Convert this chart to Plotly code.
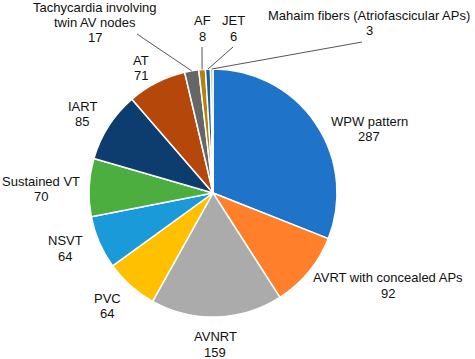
import math
import plotly.graph_objects as go

W, H = 475, 359

categories = ["WPW pattern", "AVRT with concealed APs", "AVNRT", "PVC", "NSVT",
              "Sustained VT", "IART", "AT", "Tachycardia involving twin AV nodes",
              "AF", "JET", "Mahaim fibers (Atriofascicular APs)"]
values = [287, 92, 159, 64, 64, 70, 85, 71, 17, 8, 6, 3]
label_lines = [["WPW pattern"], ["AVRT with concealed APs"], ["AVNRT"], ["PVC"], ["NSVT"],
               ["Sustained VT"], ["IART"], ["AT"], ["Tachycardia involving", "twin AV nodes"],
               ["AF"], ["JET"], ["Mahaim fibers (Atriofascicular APs)"]]

colors = ["#1F74CA", "#FF7F2A", "#ABABAB", "#FFC000", "#1B9AD9", "#4CAE3F",
          "#0D3C6E", "#B5470A", "#666666", "#B5820A", "#1A5F95", "#9EC283"]

# layout (pixels)
CX, CY, R = 213, 193, 124
LINE_H = 15.5
label_pos = [(369, 129), (388, 285.5), (215, 344.5), (107, 306), (65, 248.5), (41, 189),
             (82, 114), (141, 68), (95, 22.5), (202, 28.5), (233, 28.5), (369, 23)]
leader_start = {8: (137, 34), 9: (202, 47), 10: (233, 47), 11: (362, 42)}

fig = go.Figure(go.Pie(
    labels=categories, values=values, sort=False, direction="clockwise", rotation=0,
    marker=dict(colors=colors, line=dict(color="white", width=1.5)),
    textinfo="none", hoverinfo="label+value", showlegend=False,
    domain=dict(x=[(CX - R) / W, (CX + R) / W], y=[(H - CY - R) / H, (H - CY + R) / H]),
))

total = sum(values)
cum = 0
shapes = []
annotations = []
for i, (lines, v) in enumerate(zip(label_lines, values)):
    mid = (cum + v / 2) / total * 2 * math.pi
    cum += v
    ex, ey = CX + R * math.sin(mid), CY - R * math.cos(mid)
    lx, ly = label_pos[i]
    all_lines = lines + [str(v)]
    n = len(all_lines)
    for k, t in enumerate(all_lines):
        yy = ly + (k - (n - 1) / 2) * LINE_H
        annotations.append(dict(x=lx / W, y=1 - yy / H, xref="paper", yref="paper",
                                text=t, showarrow=False, align="center",
                                xanchor="center", yanchor="middle",
                                font=dict(family="Liberation Sans, Arial", size=13, color="#111")))
    if i in leader_start:
        sx, sy = leader_start[i]
        shapes.append(dict(type="line", xref="paper", yref="paper",
                           x0=sx / W, y0=1 - sy / H, x1=ex / W, y1=1 - ey / H,
                           line=dict(color="#555555", width=1)))

fig.update_layout(width=W, height=H, margin=dict(l=0, r=0, t=0, b=0),
                  paper_bgcolor="white", plot_bgcolor="white",
                  annotations=annotations, shapes=shapes)
fig.write_html("out.html", config={"displayModeBar": False},
               post_script="document.body.style.margin='0';document.body.style.overflow='hidden';")
